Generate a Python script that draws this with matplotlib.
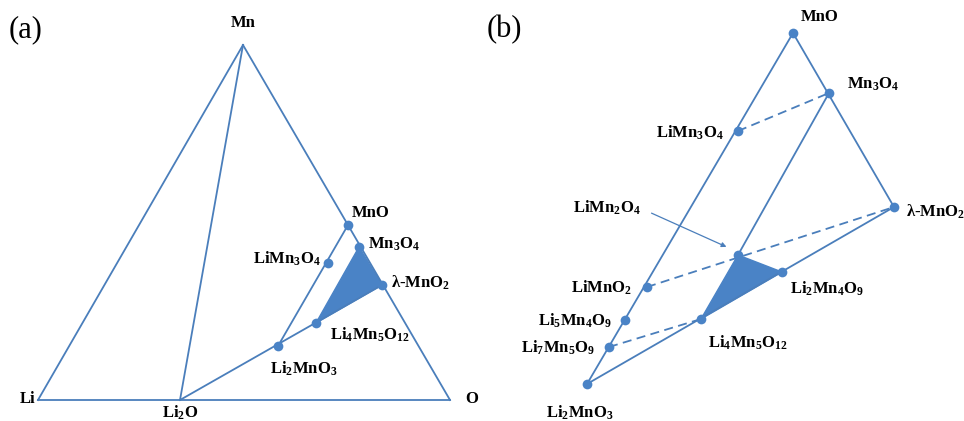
import matplotlib
matplotlib.use("Agg")
import matplotlib.pyplot as plt

plt.rcParams['font.family'] = ['Liberation Serif', 'DejaVu Serif']
plt.rcParams['mathtext.fontset'] = 'custom'
plt.rcParams['mathtext.rm'] = 'Liberation Serif:bold'
plt.rcParams['mathtext.bf'] = 'Liberation Serif:bold'
plt.rcParams['mathtext.default'] = 'rm'

# ---- panel (a): Li-Mn-O ternary, diagram coordinates
a_names = ['Li', 'Mn', 'O', 'Li2O', 'MnO', 'Mn3O4', 'LiMn3O4', 'l-MnO2', 'Li4Mn5O12', 'Li2MnO3']
a_x = [38, 243, 450, 180, 348, 359, 328, 382, 316, 278]
a_y = [400, 45, 400, 400, 225, 247, 263, 285, 323, 346]
a_dots = ['MnO', 'Mn3O4', 'LiMn3O4', 'l-MnO2', 'Li4Mn5O12', 'Li2MnO3']
a_lines = [('Li', 'Mn'), ('Mn', 'O'), ('Li', 'O'), ('Mn', 'Li2O'),
           ('Li2O', 'l-MnO2'), ('Li2MnO3', 'MnO')]
a_fill = ['Mn3O4', 'l-MnO2', 'Li4Mn5O12']
a_labels = {
    'Mn': ('Mn', 243, 23, 'center'),
    'Li': ('Li', 28, 399, 'center'),
    'O': ('O', 472, 399, 'center'),
    'Li2O': ('Li$_2$O', 180, 413, 'center'),
    'MnO': ('MnO', 371, 213, 'center'),
    'Mn3O4': ('Mn$_3$O$_4$', 394, 244, 'center'),
    'LiMn3O4': ('LiMn$_3$O$_4$', 321, 259, 'right'),
    'l-MnO2': ('λ-MnO$_2$', 391, 283, 'left'),
    'Li4Mn5O12': ('Li$_4$Mn$_5$O$_{12}$', 370, 335, 'center'),
    'Li2MnO3': ('Li$_2$MnO$_3$', 304, 369, 'center'),
}

# ---- panel (b): enlarged sub-region
b_names = ['MnO', 'Mn3O4', 'LiMn3O4', 'l-MnO2', 'LiMn2O4', 'Li2Mn4O9', 'LiMnO2',
           'Li5Mn4O9', 'Li4Mn5O12', 'Li7Mn5O9', 'Li2MnO3']
b_x = [311, 347, 256, 412, 256, 300, 165, 143, 219, 127, 105]
b_y = [33, 93, 131, 207, 255, 272, 287, 320, 319, 347, 384]
b_solid = [('Li2MnO3', 'MnO'), ('MnO', 'l-MnO2'), ('l-MnO2', 'Li2MnO3'),
           ('Mn3O4', 'LiMn2O4')]
b_dashed = [('LiMn3O4', 'Mn3O4'), ('LiMnO2', 'l-MnO2'), ('Li7Mn5O9', 'Li4Mn5O12')]
b_fill = ['LiMn2O4', 'Li2Mn4O9', 'Li4Mn5O12']
b_labels = {
    'MnO': ('MnO', 338, 17, 'center'),
    'Mn3O4': ('Mn$_3$O$_4$', 391, 84, 'center'),
    'LiMn3O4': ('LiMn$_3$O$_4$', 242, 133, 'right'),
    'l-MnO2': ('λ-MnO$_2$', 424, 212, 'left'),
    'LiMn2O4': ('LiMn$_2$O$_4$', 125, 208, 'center'),
    'Li2Mn4O9': ('Li$_2$Mn$_4$O$_9$', 345, 289, 'center'),
    'LiMnO2': ('LiMnO$_2$', 150, 288, 'right'),
    'Li5Mn4O9': ('Li$_5$Mn$_4$O$_9$', 130, 321, 'right'),
    'Li7Mn5O9': ('Li$_7$Mn$_5$O$_9$', 113, 348, 'right'),
    'Li4Mn5O12': ('Li$_4$Mn$_5$O$_{12}$', 266, 343, 'center'),
    'Li2MnO3': ('Li$_2$MnO$_3$', 98, 413, 'center'),
}
b_arrow = ((167, 212), (247, 248))

line_c = '#4a7ebb'
dot_c = '#4a83c6'

fig = plt.figure(figsize=(9.64, 4.21), dpi=100)


def panel(ax, names, xs, ys, solid, dashed, dots, fill, labels, tag, tag_x):
    pos = dict(zip(names, zip(xs, ys)))
    ax.set_xlim(0, 482)
    ax.set_ylim(421, 0)
    ax.axis('off')
    ax.fill([pos[n][0] for n in fill], [pos[n][1] for n in fill],
            fc=dot_c, ec=dot_c, lw=1.0, zorder=1)
    for p, q in solid:
        ax.plot([pos[p][0], pos[q][0]], [pos[p][1], pos[q][1]],
                color=line_c, lw=1.3, zorder=2)
    for p, q in dashed:
        ax.plot([pos[p][0], pos[q][0]], [pos[p][1], pos[q][1]],
                color=line_c, lw=1.3, ls=(0, (5, 3)), zorder=2)
    ax.plot([pos[n][0] for n in dots], [pos[n][1] for n in dots], 'o',
            color=dot_c, ms=7, mec='none', zorder=3)
    for k, (txt, x, y, ha) in labels.items():
        ax.text(x, y, txt, ha=ha, va='center', fontsize=12,
                fontweight='bold', zorder=4)
    ax.text(tag_x, 30, tag, fontsize=22, ha='left', va='center')


ax1 = fig.add_axes([0, 0, 482 / 964, 1])
panel(ax1, a_names, a_x, a_y, a_lines, [], a_dots, a_fill, a_labels, '(a)', 9)

ax2 = fig.add_axes([482 / 964, 0, 482 / 964, 1])
panel(ax2, b_names, b_x, b_y, b_solid, b_dashed, b_names, b_fill, b_labels, '(b)', 5)
ax2.annotate('', xy=b_arrow[1], xytext=b_arrow[0],
             arrowprops=dict(arrowstyle='-|>', color=line_c, lw=0.9,
                             mutation_scale=7))

fig.savefig('out.png', dpi=100)
